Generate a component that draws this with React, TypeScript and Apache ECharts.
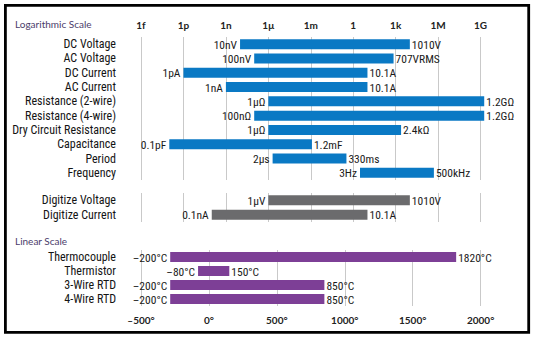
import React, { useEffect, useRef } from "react";
import * as echarts from "echarts";

// ---- Logarithmic section (values in base units, drawn positions) ----
const logCats = [
  "DC Voltage",
  "AC Voltage",
  "DC Current",
  "AC Current",
  "Resistance (2-wire)",
  "Resistance (4-wire)",
  "Dry Circuit Resistance",
  "Capacitance",
  "Period",
  "Frequency",
];
const logLow = [1e-8, 1e-7, 1e-12, 1e-9, 1e-6, 1e-7, 1e-6, 1e-13, 2e-6, 3];
const logHigh = [1e4, 707, 10.1, 10.1, 1.8e9, 1.8e9, 2400, 1.2e-3, 0.33, 5e5];
const logLowLabels = ["10nV", "100nV", "1pA", "1nA", "1µΩ", "100nΩ", "1µΩ", "0.1pF", "2µs", "3Hz"];
const logHighLabels = ["1010V", "707VRMS", "10.1A", "10.1A", "1.2GΩ", "1.2GΩ", "2.4kΩ", "1.2mF", "330ms", "500kHz"];

const digCats = ["Digitize Voltage", "Digitize Current"];
const digLow = [1e-6, 1e-10];
const digHigh = [1e4, 10.1];
const digLowLabels = ["1µV", "0.1nA"];
const digHighLabels = ["1010V", "10.1A"];

// ---- Linear section (°C) ----
const linCats = ["Thermocouple", "Thermistor", "3-Wire RTD", "4-Wire RTD"];
const linLow = [-285, -80, -285, -285];
const linHigh = [1820, 150, 850, 850];
const linLowLabels = ["–200°C", "–80°C", "–200°C", "–200°C"];
const linHighLabels = ["1820°C", "150°C", "850°C", "850°C"];

// tick labels for the log axis (exponent -> prefix)
const logTickExps = [-15, -12, -9, -6, -3, 0, 3, 6, 9];
const logTickLabels = ["1f", "1p", "1n", "1µ", "1m", "1", "1k", "1M", "1G"];

const FONT = "'Liberation Sans Narrow', 'Roboto Condensed', Lato, sans-serif";
const HEAD_FONT = "Lato, 'Noto Sans', sans-serif";
const BLUE = "#0a79c4";
const GRAY = "#6b6b6d";
const PURPLE = "#7d3f96";
const GRID_LINE = "#c9c9c9";

function makeRender(color: string, lowLabels: string[], highLabels: string[]) {
  return (params: any, api: any) => {
    const idx = params.dataIndex;
    const cat = api.value(0);
    const s = api.coord([api.value(1), cat]);
    const e = api.coord([api.value(2), cat]);
    const h = 10;
    return {
      type: "group",
      children: [
        {
          type: "rect",
          shape: { x: s[0], y: s[1] - h / 2, width: e[0] - s[0], height: h },
          style: { fill: color },
        },
        {
          type: "text",
          x: s[0] - 3,
          y: s[1] + 0.5,
          style: {
            text: lowLabels[idx],
            align: "right",
            verticalAlign: "middle",
            fontSize: 11.5,
            fontFamily: FONT,
            fill: "#1a1a1a",
          },
        },
        {
          type: "text",
          x: e[0] + 2,
          y: s[1] + 0.5,
          style: {
            text: highLabels[idx],
            align: "left",
            verticalAlign: "middle",
            fontSize: 11.5,
            fontFamily: FONT,
            fill: "#1a1a1a",
          },
        },
      ],
    };
  };
}

export default function App() {
  const ref = useRef<HTMLDivElement>(null);
  useEffect(() => {
    if (!ref.current) return;
    const chart = echarts.init(ref.current, null, { renderer: "svg" });
    const gridLeft = 141;
    const gridRight = 535 - 480.6;
    const yAxisCommon = {
      type: "category" as const,
      inverse: true,
      axisLine: { show: false },
      axisTick: { show: false },
      splitLine: { show: false },
      axisLabel: { interval: 0, margin: 25, fontSize: 12, fontFamily: FONT, color: "#141414" },
    };
    const logXCommon = {
      type: "value" as const,
      min: -15,
      max: 9,
      interval: 3,
      axisLine: { show: false },
      axisTick: { show: false },
      splitLine: { show: true, lineStyle: { color: GRID_LINE, width: 1 } },
    };
    chart.setOption({
      animation: false,
      backgroundColor: "#ffffff",
      grid: [
        { left: gridLeft, right: gridRight, top: 37, height: 143 },
        { left: gridLeft, right: gridRight, top: 193, height: 29 },
        { left: gridLeft, right: gridRight, top: 250, height: 56 },
      ],
      xAxis: [
        {
          ...logXCommon,
          gridIndex: 0,
          position: "top",
          axisLabel: {
            margin: 7,
            fontSize: 10,
            fontWeight: "bold",
            fontFamily: HEAD_FONT,
            color: "#222",
            formatter: (v: number) => {
              const i = logTickExps.indexOf(Math.round(v));
              return i >= 0 ? logTickLabels[i] : "";
            },
          },
        },
        { ...logXCommon, gridIndex: 1, axisLabel: { show: false } },
        {
          type: "value",
          gridIndex: 2,
          min: -500,
          max: 2000,
          interval: 500,
          axisLine: { show: false },
          axisTick: { show: false },
          splitLine: { show: true, lineStyle: { color: GRID_LINE, width: 1 } },
          axisLabel: {
            margin: 9,
            fontSize: 10,
            fontWeight: "bold",
            fontFamily: HEAD_FONT,
            color: "#222",
            formatter: (v: number) => (v < 0 ? "–" + Math.abs(v) : String(v)) + "°",
          },
        },
      ],
      yAxis: [
        { ...yAxisCommon, gridIndex: 0, data: logCats },
        { ...yAxisCommon, gridIndex: 1, data: digCats },
        { ...yAxisCommon, gridIndex: 2, data: linCats },
      ],
      series: [
        {
          type: "custom",
          xAxisIndex: 0,
          yAxisIndex: 0,
          clip: false,
          renderItem: makeRender(BLUE, logLowLabels, logHighLabels),
          encode: { x: [1, 2], y: 0 },
          data: logCats.map((_, i) => [i, Math.log10(logLow[i]), Math.log10(logHigh[i])]),
        },
        {
          type: "custom",
          xAxisIndex: 1,
          yAxisIndex: 1,
          clip: false,
          renderItem: makeRender(GRAY, digLowLabels, digHighLabels),
          encode: { x: [1, 2], y: 0 },
          data: digCats.map((_, i) => [i, Math.log10(digLow[i]), Math.log10(digHigh[i])]),
        },
        {
          type: "custom",
          xAxisIndex: 2,
          yAxisIndex: 2,
          clip: false,
          renderItem: makeRender(PURPLE, linLowLabels, linHighLabels),
          encode: { x: [1, 2], y: 0 },
          data: linCats.map((_, i) => [i, linLow[i], linHigh[i]]),
        },
      ],
      graphic: [
        {
          type: "rect",
          shape: { x: 5.4, y: 5.4, width: 523.3, height: 327 },
          style: { fill: "none", stroke: "#000", lineWidth: 2.8 },
          silent: true,
        },
        {
          type: "text",
          left: 15,
          top: 19,
          style: { text: "Logarithmic Scale", fontSize: 10, fontFamily: HEAD_FONT, fill: "#4b3d6b" },
        },
        {
          type: "text",
          left: 15,
          top: 236,
          style: { text: "Linear Scale", fontSize: 10, fontFamily: HEAD_FONT, fill: "#4b3d6b" },
        },
      ],
    });
    return () => chart.dispose();
  }, []);
  return (
    <div
      ref={ref}
      style={{ position: "fixed", left: 0, top: 0, width: 535, height: 341, background: "#fff" }}
    />
  );
}
